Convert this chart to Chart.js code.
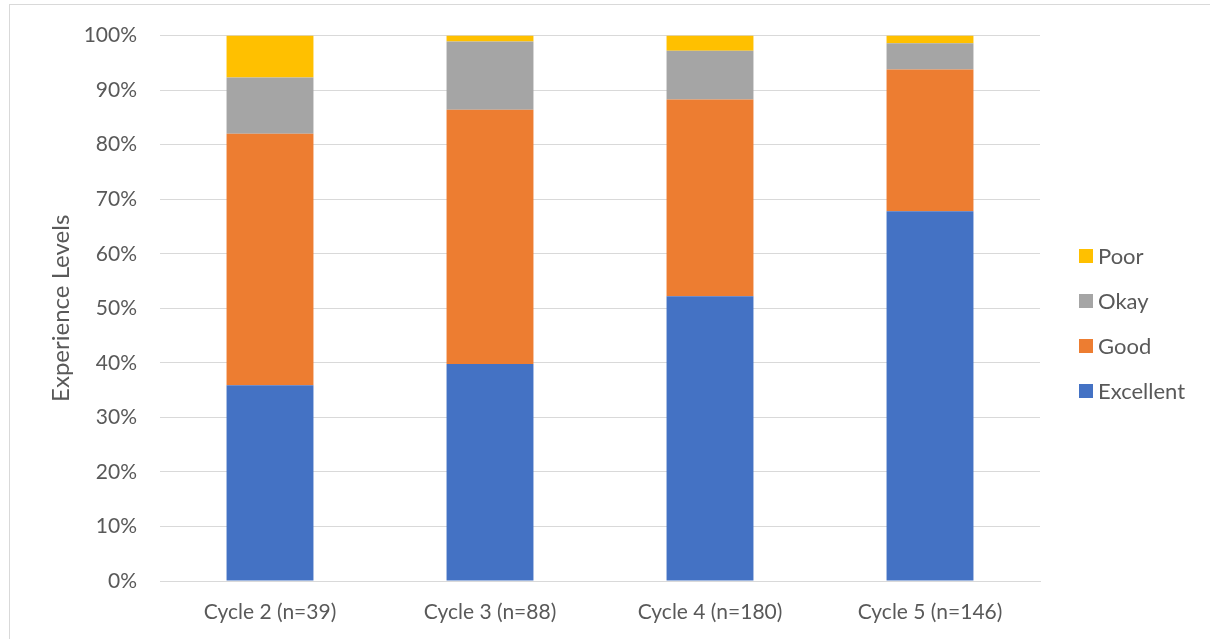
<!DOCTYPE html>
<html>
<head>
<meta charset="utf-8">
<script src="https://cdn.jsdelivr.net/npm/chart.js@4/dist/chart.umd.min.js"></script>
<style>
  html, body { margin: 0; padding: 0; background: #fff; overflow: hidden; width: 1210px; height: 639px; }
  #frame { position: absolute; left: 9px; top: 4px; width: 1300px; height: 700px; border: 1px solid #d9d9d9; }
  #chart { position: absolute; left: 0; top: 0; }
</style>
</head>
<body>
<div id="frame"></div>
<canvas id="chart" width="1210" height="639"></canvas>
<script>
const cycles = ['Cycle 2 (n=39)', 'Cycle 3 (n=88)', 'Cycle 4 (n=180)', 'Cycle 5 (n=146)'];
// share of responses per cycle, in percent
const excellent = [35.9, 39.8, 52.2, 67.8];
const good = [46.1, 46.6, 36.1, 26.0];
const okay = [10.3, 12.5, 8.9, 4.8];
const poor = [7.7, 1.1, 2.8, 1.4];

const fontFamily = 'Lato, "Open Sans", sans-serif';
const textColor = '#595959';

// legend drawn by hand so it can sit at a fixed spot right of the plot
const sideLegend = {
  id: 'sideLegend',
  afterDraw(chart) {
    const ctx = chart.ctx;
    const sets = chart.data.datasets.slice().reverse();
    ctx.save();
    ctx.font = '22px ' + fontFamily;
    ctx.textBaseline = 'middle';
    sets.forEach((ds, i) => {
      const y = 256 + i * 45;
      ctx.fillStyle = ds.backgroundColor;
      ctx.fillRect(1079, y - 7, 14, 14);
      ctx.fillStyle = textColor;
      ctx.fillText(ds.label, 1098, y + 1);
    });
    ctx.restore();
  }
};

new Chart(document.getElementById('chart'), {
  type: 'bar',
  data: {
    labels: cycles,
    datasets: [
      { label: 'Excellent', data: excellent, backgroundColor: '#4472C4' },
      { label: 'Good', data: good, backgroundColor: '#ED7D31' },
      { label: 'Okay', data: okay, backgroundColor: '#A5A5A5' },
      { label: 'Poor', data: poor, backgroundColor: '#FFC000' }
    ]
  },
  options: {
    responsive: false,
    animation: false,
    layout: { padding: { left: 47, right: 170, top: 32, bottom: 0 } },
    datasets: { bar: { categoryPercentage: 1, barPercentage: 0.395, borderWidth: 0 } },
    plugins: {
      legend: { display: false },
      tooltip: { enabled: false }
    },
    scales: {
      x: {
        stacked: true,
        grid: { display: false },
        border: { display: true, color: '#d9d9d9', width: 1 },
        ticks: { color: textColor, font: { family: fontFamily, size: 21 }, padding: 11 },
        afterFit(scale) { scale.height = 58; }
      },
      y: {
        stacked: true,
        min: 0,
        max: 100,
        grid: { color: '#d9d9d9', lineWidth: 1, drawTicks: false },
        border: { display: false },
        ticks: {
          stepSize: 10,
          color: textColor,
          font: { family: fontFamily, size: 21 },
          padding: 23,
          callback: v => v + '%'
        },
        title: {
          display: true,
          text: 'Experience Levels',
          color: textColor,
          font: { family: fontFamily, size: 24 },
          padding: { top: 0, bottom: 0 }
        },
        afterFit(scale) { scale.width = 113; }
      }
    }
  },
  plugins: [sideLegend]
});
</script>
</body>
</html>
